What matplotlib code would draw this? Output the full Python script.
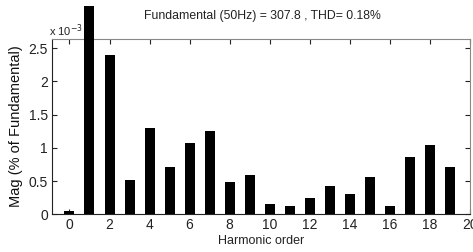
import matplotlib
matplotlib.use("Agg")
import matplotlib.pyplot as plt
from matplotlib import font_manager

names = {f.name for f in font_manager.fontManager.ttflist}
fam = ["Liberation Sans Narrow", "Liberation Sans", "DejaVu Sans"]
fam = [f for f in fam if f in names] + ["DejaVu Sans"]
plt.rcParams['font.family'] = fam

harmonics = list(range(20))
mag_e3 = [0.05, 3.13, 2.40, 0.515, 1.30, 0.71, 1.075, 1.25, 0.49, 0.59,
          0.155, 0.12, 0.25, 0.425, 0.305, 0.565, 0.12, 0.865, 1.035, 0.705]
xticks = list(range(0, 21, 2))
yticks = [0, 0.5, 1, 1.5, 2, 2.5]
ytick_labels = ["0", "0.5", "1", "1.5", "2", "2.5"]
title = "Fundamental (50Hz) = 307.8 , THD= 0.18%"

fig = plt.figure(figsize=(4.73, 2.52), dpi=100)
ax = fig.add_axes([0.110, 0.1496, 0.8837, 0.6968])
bars = ax.bar(harmonics, mag_e3, width=0.5, color="black", zorder=3)
for b in bars:
    b.set_clip_on(False)
ax.set_xlim(-0.87, 20.0)
ax.set_ylim(0, 2.64)
ax.set_xticks(xticks)
ax.set_yticks(yticks)
ax.set_yticklabels(ytick_labels)
ax.tick_params(direction="in", top=True, right=True, length=3.5, labelsize=10,
               colors="#222222", pad=3)
for s in ["top", "right"]:
    ax.spines[s].set_color("#888888")
for s in ["left", "bottom"]:
    ax.spines[s].set_color("#222222")
ax.set_xlabel("Harmonic order", fontsize=9, labelpad=2, color="#222222")
ax.set_ylabel("Mag (% of Fundamental)", fontsize=10.5, labelpad=4, color="#111111")
fig.text(0.555, 0.935, title, ha="center", va="center", fontsize=8.8, color="#222222")
fig.text(0.104, 0.878, r"x 10$^{-3}$", ha="left", va="center", fontsize=8, color="#222222")
fig.savefig("out.png", dpi=100)
